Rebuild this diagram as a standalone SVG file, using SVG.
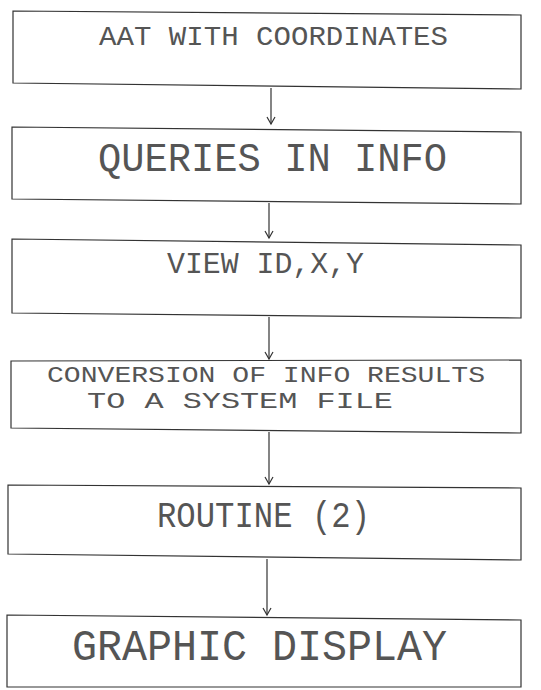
<svg xmlns="http://www.w3.org/2000/svg" width="541" height="690" viewBox="0 0 541 690">
<defs>
<style>
.box{fill:none;stroke:#333;stroke-width:1.2}
.edge{fill:none;stroke:#333;stroke-width:1.2}
.lbl{font-family:"Liberation Mono","DejaVu Sans Mono",monospace;fill:#555;stroke:none}
</style>
<marker id="ah" markerWidth="10" markerHeight="10" refX="8" refY="5" orient="auto" markerUnits="userSpaceOnUse" viewBox="0 0 10 10">
<path d="M1,1 L8,5 L1,9" fill="none" stroke="#333" stroke-width="1.2"/>
</marker>
</defs>
<rect width="541" height="690" fill="#fff"/>
<g id="connectors">
<path class="edge" d="M271,88 L271,124" marker-end="url(#ah)"/>
<path class="edge" d="M269,203 L269,238" marker-end="url(#ah)"/>
<path class="edge" d="M269,317 L269,359" marker-end="url(#ah)"/>
<path class="edge" d="M269,432 L269,484" marker-end="url(#ah)"/>
<path class="edge" d="M267,559 L267,615" marker-end="url(#ah)"/>
</g>
<g id="n1">
<polygon class="box" points="13,11 521,15 521,89 13,83"/>
<text class="lbl" x="99" y="45" font-size="28" textLength="349" lengthAdjust="spacingAndGlyphs">AAT WITH COORDINATES</text>
</g>
<g id="n2">
<polygon class="box" points="12,127 521,132 521,204 12,199"/>
<text class="lbl" x="98" y="171" font-size="40" textLength="349" lengthAdjust="spacingAndGlyphs">QUERIES IN INFO</text>
</g>
<g id="n3">
<polygon class="box" points="12,239 521,245 521,318 12,313"/>
<text class="lbl" x="167" y="273" font-size="30" textLength="197" lengthAdjust="spacingAndGlyphs">VIEW ID,X,Y</text>
</g>
<g id="n4">
<polygon class="box" points="11,361 521,360 521,433 11,428"/>
<text class="lbl" x="47" y="382" font-size="22" textLength="438" lengthAdjust="spacingAndGlyphs">CONVERSION OF INFO RESULTS</text>
<text class="lbl" x="87" y="408" font-size="22" textLength="306" lengthAdjust="spacingAndGlyphs">TO A SYSTEM FILE</text>
</g>
<g id="n5">
<polygon class="box" points="8,485 521,488 521,560 8,554"/>
<text class="lbl" x="157" y="527" font-size="36" textLength="213" lengthAdjust="spacingAndGlyphs">ROUTINE (2)</text>
</g>
<g id="n6">
<polygon class="box" points="7,615 521,620 521,687 7,687"/>
<text class="lbl" x="72" y="660" font-size="44" textLength="375" lengthAdjust="spacingAndGlyphs">GRAPHIC DISPLAY</text>
</g>
</svg>
